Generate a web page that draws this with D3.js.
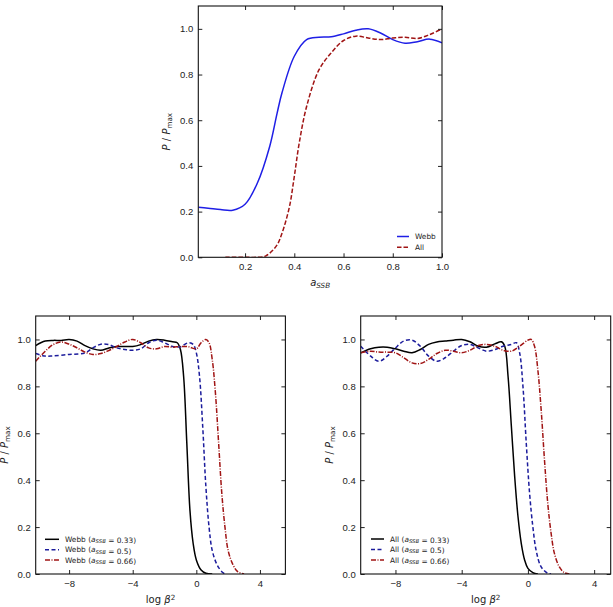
<!DOCTYPE html>
<html>
<head>
<meta charset="utf-8">
<script src="https://cdn.jsdelivr.net/npm/d3@7"></script>
<style>
body { margin: 0; background: #fff; }
svg { font-family: "DejaVu Sans", sans-serif; }
.tick text { font-size: 9.5px; fill: #222; }
.tick line { stroke: #222; }
.frame { fill: none; stroke: #111; stroke-width: 1.1; }
.lbl { font-size: 10px; fill: #222; }
.leg { font-size: 7.4px; fill: #222; }
</style>
</head>
<body>
<svg id="fig" width="613" height="607"></svg>
<script>
// top panel: P/Pmax vs a_SSB
var webbA = [0.01, 0.05, 0.1, 0.15, 0.2, 0.25, 0.3, 0.33, 0.35, 0.4, 0.45, 0.5, 0.55, 0.6, 0.65, 0.7, 0.75, 0.8, 0.85, 0.9, 0.95, 1.0]
var webbP = [0.219, 0.215, 0.209, 0.206, 0.232, 0.325, 0.485, 0.63, 0.72, 0.88, 0.953, 0.963, 0.965, 0.978, 0.994, 1.0, 0.982, 0.953, 0.937, 0.944, 0.955, 0.939]
var allA = [0.12, 0.2, 0.25, 0.28, 0.3, 0.33, 0.35, 0.38, 0.4, 0.42, 0.45, 0.5, 0.55, 0.6, 0.65, 0.7, 0.75, 0.8, 0.85, 0.9, 0.95, 1.0]
var allP = [0.0, 0.0, 0.0, 0.004, 0.018, 0.054, 0.105, 0.22, 0.354, 0.5, 0.66, 0.82, 0.895, 0.949, 0.968, 0.96, 0.953, 0.96, 0.963, 0.958, 0.975, 1.0]

// bottom left: Webb, P/Pmax vs log beta^2
var webb33X = [-10.1, -9.5, -9, -8.5, -8, -7.5, -7, -6.5, -6, -5.5, -5, -4.5, -4, -3.5, -3, -2.5, -2, -1.5, -1.2, -1, -0.8, -0.6, -0.4, -0.2, 0, 0.3, 0.6, 1.0]
var webb33Y = [0.974, 0.993, 0.996, 0.996, 1.0, 0.993, 0.974, 0.96, 0.954, 0.964, 0.97, 0.97, 0.97, 0.978, 0.993, 1.0, 0.997, 0.99, 0.986, 0.957, 0.843, 0.56, 0.27, 0.13, 0.06, 0.017, 0.003, 0.0]
var webb50X = [-10.1, -9.5, -9, -8, -7, -6.5, -6, -5.5, -5, -4.5, -4, -3.5, -3, -2.5, -2, -1.5, -1, -0.5, -0.2, 0, 0.2, 0.4, 0.6, 0.8, 1.0, 1.3, 1.6, 1.8]
var webb50Y = [0.94, 0.929, 0.93, 0.936, 0.943, 0.964, 0.98, 0.978, 0.964, 0.957, 0.954, 0.96, 0.986, 0.997, 0.986, 0.97, 0.969, 0.986, 0.979, 0.943, 0.843, 0.63, 0.373, 0.2, 0.1, 0.04, 0.01, 0.0]
var webb66X = [-10.1, -9.5, -9, -8.5, -8, -7.5, -7, -6.5, -6, -5.5, -5, -4.5, -4, -3.5, -3, -2.5, -2, -1.5, -1, -0.5, 0, 0.3, 0.6, 0.8, 1.0, 1.2, 1.4, 1.6, 1.8, 2.0, 2.3, 2.6, 3.0]
var webb66Y = [0.907, 0.95, 0.978, 0.989, 0.98, 0.964, 0.946, 0.936, 0.94, 0.953, 0.97, 0.989, 1.0, 0.986, 0.964, 0.96, 0.97, 0.967, 0.97, 0.969, 0.96, 0.986, 1.0, 0.986, 0.915, 0.772, 0.56, 0.345, 0.2, 0.1, 0.04, 0.01, 0.0]

// bottom right: All, P/Pmax vs log beta^2
var all33X = [-10.1, -9.5, -9, -8.5, -8, -7.5, -7, -6.5, -6, -5.5, -5, -4.5, -4, -3.5, -3, -2.5, -2, -1.6, -1.4, -1.2, -1.0, -0.8, -0.6, -0.4, -0.2, 0, 0.3, 0.6]
var all33Y = [0.943, 0.96, 0.967, 0.967, 0.96, 0.95, 0.943, 0.957, 0.979, 0.989, 0.993, 0.997, 1.0, 0.99, 0.971, 0.967, 0.981, 0.99, 0.971, 0.843, 0.63, 0.416, 0.245, 0.13, 0.06, 0.024, 0.006, 0.0]
var all50X = [-10.1, -9.5, -9, -8.5, -8, -7.5, -7, -6.5, -6, -5.5, -5, -4.5, -4, -3.5, -3, -2.5, -2, -1.5, -1, -0.7, -0.5, -0.3, -0.1, 0.1, 0.3, 0.5, 0.8, 1.2, 1.4]
var all50Y = [0.971, 0.929, 0.907, 0.929, 0.964, 0.993, 0.997, 0.971, 0.929, 0.907, 0.922, 0.95, 0.974, 0.979, 0.964, 0.95, 0.957, 0.971, 0.979, 0.986, 0.943, 0.8, 0.558, 0.345, 0.2, 0.1, 0.03, 0.003, 0.0]
var all66X = [-10.1, -9.5, -9, -8.5, -8, -7.5, -7, -6.5, -6, -5.5, -5, -4.5, -4, -3.5, -3, -2.5, -2, -1.5, -1, -0.5, 0, 0.2, 0.4, 0.6, 0.8, 1.0, 1.2, 1.4, 1.6, 1.9, 2.2, 2.5]
var all66Y = [0.943, 0.95, 0.946, 0.946, 0.943, 0.922, 0.9, 0.897, 0.915, 0.94, 0.954, 0.95, 0.943, 0.954, 0.974, 0.979, 0.971, 0.954, 0.95, 0.971, 0.997, 1.0, 0.971, 0.87, 0.7, 0.487, 0.3, 0.174, 0.088, 0.03, 0.006, 0.0]

var topXTicks = [0.2, 0.4, 0.6, 0.8, 1.0]
var betaTicks = [-8, -4, 0, 4]
var yTicks = [0.0, 0.2, 0.4, 0.6, 0.8, 1.0]

var svg = d3.select("#fig")

function zip(xs, ys) {
	return xs.map(function(x, i) { return [x, ys[i]] })
}

// italic a with italic SSB subscript
function addASSB(text) {
	text.append("tspan").attr("font-style", "italic").text("a")
	text.append("tspan").attr("font-style", "italic").attr("font-size", "0.72em").attr("dy", "0.28em").text("SSB")
	text.append("tspan").attr("dy", "-0.28em").text("")
}

/*
box = [left, top, right, bottom] in px
series = [{pts, color, dash, label}]
legendPos = [x, y, line length, row step]
*/
function drawPanel(box, xDomain, xTicks, xFmt, series, xlabelFn, legendPos) {
	var x = d3.scaleLinear().domain(xDomain).range([box[0], box[2]])
	var y = d3.scaleLinear().domain([0, 1.1]).range([box[3], box[1]])
	var g = svg.append("g")

	var clipId = "clip" + Math.round(box[0])
	svg.append("clipPath").attr("id", clipId)
		.append("rect")
		.attr("x", box[0]).attr("y", box[1] - 1)
		.attr("width", box[2] - box[0]).attr("height", box[3] - box[1] + 1)

	var line = d3.line()
		.x(function(d) { return x(d[0]) })
		.y(function(d) { return Math.min(y(d[1]), box[3]) })
		.curve(d3.curveCatmullRom.alpha(0.5))

	var lines = g.append("g").attr("clip-path", "url(#" + clipId + ")")
	series.forEach(function(s) {
		lines.append("path")
			.datum(s.pts)
			.attr("fill", "none")
			.attr("stroke", s.color)
			.attr("stroke-width", 1.5)
			.attr("stroke-dasharray", s.dash)
			.attr("d", line)
	})

	// axes, ticks pointing inward on all four sides
	g.append("g").attr("transform", "translate(0," + box[3] + ")")
		.call(d3.axisBottom(x).tickValues(xTicks).tickFormat(xFmt).tickSizeInner(-4).tickSizeOuter(0).tickPadding(6))
	g.append("g").attr("transform", "translate(0," + box[1] + ")")
		.call(d3.axisTop(x).tickValues(xTicks).tickFormat("").tickSizeInner(-4).tickSizeOuter(0))
	g.append("g").attr("transform", "translate(" + box[0] + ",0)")
		.call(d3.axisLeft(y).tickValues(yTicks).tickFormat(d3.format(".1f")).tickSizeInner(-4).tickSizeOuter(0).tickPadding(5))
	g.append("g").attr("transform", "translate(" + box[2] + ",0)")
		.call(d3.axisRight(y).tickValues(yTicks).tickFormat("").tickSizeInner(-4).tickSizeOuter(0))
	g.selectAll(".domain").remove()

	g.append("rect")
		.attr("class", "frame")
		.attr("x", box[0]).attr("y", box[1])
		.attr("width", box[2] - box[0]).attr("height", box[3] - box[1])

	// y label  P / P_max
	var yl = g.append("text")
		.attr("class", "lbl")
		.attr("text-anchor", "middle")
		.attr("transform", "translate(" + (box[0] - 28) + "," + ((box[1] + box[3]) / 2) + ") rotate(-90)")
	yl.append("tspan").attr("font-style", "italic").text("P")
	yl.append("tspan").text(" / ")
	yl.append("tspan").attr("font-style", "italic").text("P")
	yl.append("tspan").attr("font-size", "0.72em").attr("dy", "0.28em").text("max")

	// x label
	var xl = g.append("text")
		.attr("class", "lbl")
		.attr("text-anchor", "middle")
		.attr("x", (box[0] + box[2]) / 2)
		.attr("y", box[3] + 29)
	xlabelFn(xl)

	// legend, no frame
	var leg = g.append("g").attr("transform", "translate(" + legendPos[0] + "," + legendPos[1] + ")")
	series.forEach(function(s, i) {
		leg.append("line")
			.attr("x1", 0).attr("x2", legendPos[2])
			.attr("y1", i * legendPos[3]).attr("y2", i * legendPos[3])
			.attr("stroke", s.color)
			.attr("stroke-width", 1.5)
			.attr("stroke-dasharray", s.dash)
		var t = leg.append("text")
			.attr("class", "leg")
			.attr("x", legendPos[2] + 6)
			.attr("y", i * legendPos[3] + 2.5)
		s.label(t)
	})
}

function eqLabel(name, val) {
	return function(t) {
		t.append("tspan").text(name + " (")
		addASSB(t)
		t.append("tspan").text("  =  " + val + ")")
	}
}

var blueTop = "#1f1fe6"
var navy = "#1c1c9c"
var darkRed = "#a01414"

drawPanel([198.3, 6, 442, 257.3], [0.01, 1.0], topXTicks, d3.format(".1f"), [
	{pts: zip(webbA, webbP), color: blueTop, dash: null, label: function(t) { t.text("Webb") }},
	{pts: zip(allA, allP), color: darkRed, dash: "4.5,2", label: function(t) { t.text("All") }}
], function(t) { addASSB(t) }, [397, 236.5, 12, 10.7])

function betaLabel(t) {
	t.append("tspan").text("log ")
	t.append("tspan").attr("font-style", "italic").text("β")
	t.append("tspan").attr("font-size", "0.72em").attr("dy", "-0.45em").text("2")
}

drawPanel([35.7, 316, 285.4, 574], [-10.1, 5.6], betaTicks, d3.format("d"), [
	{pts: zip(webb33X, webb33Y), color: "#000", dash: null, label: eqLabel("Webb", "0.33")},
	{pts: zip(webb50X, webb50Y), color: navy, dash: "4,2.5", label: eqLabel("Webb", "0.5")},
	{pts: zip(webb66X, webb66Y), color: darkRed, dash: "5,1.5,1,1.5", label: eqLabel("Webb", "0.66")}
], betaLabel, [45, 539.3, 14, 10.4])

drawPanel([360.7, 316, 610.7, 574], [-10.1, 5.0], betaTicks, d3.format("d"), [
	{pts: zip(all33X, all33Y), color: "#000", dash: null, label: eqLabel("All", "0.33")},
	{pts: zip(all50X, all50Y), color: navy, dash: "4,2.5", label: eqLabel("All", "0.5")},
	{pts: zip(all66X, all66Y), color: darkRed, dash: "5,1.5,1,1.5", label: eqLabel("All", "0.66")}
], betaLabel, [371, 539, 13, 10.5])
</script>
</body>
</html>
